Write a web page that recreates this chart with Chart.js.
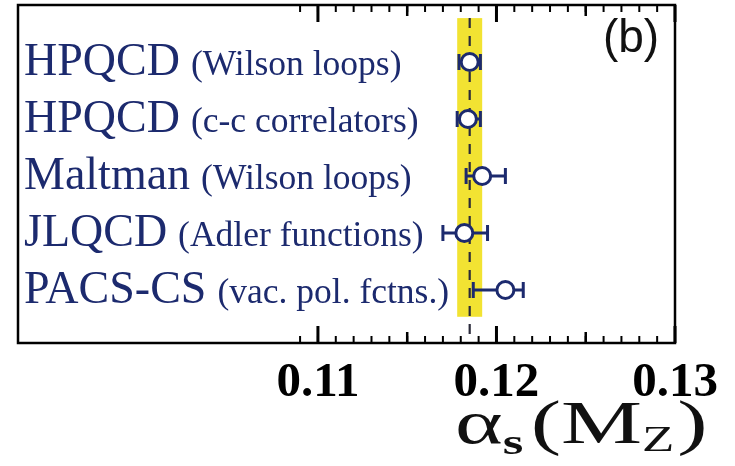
<!DOCTYPE html>
<html>
<head>
<meta charset="utf-8">
<script src="https://cdn.jsdelivr.net/npm/chart.js@4.4.1/dist/chart.umd.min.js"></script>
<style>
  html,body{margin:0;padding:0;background:#fff;}
  #wrap{width:735px;height:466px;}
</style>
</head>
<body>
<div id="wrap"><canvas id="c" width="735" height="466"></canvas></div>
<script>
// ── data ──
const groups  = ['HPQCD','HPQCD','Maltman','JLQCD','PACS-CS'];
const methods = ['(Wilson loops)','(c-c correlators)','(Wilson loops)','(Adler functions)','(vac. pol. fctns.)'];
const rows    = [1,2,3,4,5];
const alphaS  = [0.1185,0.1184,0.1192,0.1182,0.1205];
const errLo   = [0.0006,0.0006,0.0009,0.0012,0.0018];
const errHi   = [0.0006,0.0007,0.0013,0.0013,0.0010];
const worldAvg = 0.1185;
const worldErr = 0.0007;
const majorTicks  = [0.11,0.12,0.13];
const mediumTicks = [0.115,0.125];
const minorTicks  = [];
for(let k=109;k<=129;k++)minorTicks.push(k/1000);

const NAVY='#1c2a6e';

const decor={
  id:'decor',
  beforeDatasetsDraw(chart){
    const {ctx,scales:{x,y}}=chart;
    ctx.save();
    // band
    const bx1=x.getPixelForValue(worldAvg-worldErr),bx2=x.getPixelForValue(worldAvg+worldErr);
    const by1=y.getPixelForValue(0.23),by2=y.getPixelForValue(5.47);
    ctx.fillStyle='#f2e332';
    ctx.fillRect(bx1,by1,bx2-bx1,by2-by1);
    // dashed line
    const dx=x.getPixelForValue(worldAvg);
    ctx.strokeStyle='#2a2a3a';ctx.lineWidth=2.2;ctx.setLineDash([10,8]);
    ctx.beginPath();ctx.moveTo(dx,by1);ctx.lineTo(dx,y.getPixelForValue(5.93));ctx.stroke();
    ctx.setLineDash([]);
    // error bars
    ctx.strokeStyle=NAVY;ctx.lineWidth=3;
    rows.forEach((r,i)=>{
      const py=y.getPixelForValue(r);
      const a=x.getPixelForValue(alphaS[i]-errLo[i]),b=x.getPixelForValue(alphaS[i]+errHi[i]);
      ctx.beginPath();
      ctx.moveTo(a,py);ctx.lineTo(b,py);
      ctx.moveTo(a,py-8);ctx.lineTo(a,py+8);
      ctx.moveTo(b,py-8);ctx.lineTo(b,py+8);
      ctx.stroke();
    });
    ctx.restore();
  },
  afterDraw(chart){
    const {ctx,chartArea:ca,scales:{x,y}}=chart;
    ctx.save();
    // frame
    ctx.strokeStyle='#000';
    ctx.lineWidth=2.5;ctx.strokeRect(ca.left,ca.top,ca.right-ca.left,ca.bottom-ca.top);
    // ticks top and bottom, pointing inward
    const tick=(v,len,w)=>{
      const px=x.getPixelForValue(v);
      ctx.lineWidth=w;
      ctx.beginPath();
      ctx.moveTo(px,ca.bottom);ctx.lineTo(px,ca.bottom-len);
      ctx.moveTo(px,ca.top);ctx.lineTo(px,ca.top+len);
      ctx.stroke();
    };
    for(const v of minorTicks)tick(v,7,2);
    for(const v of mediumTicks)tick(v,11,2.5);
    for(const v of majorTicks)tick(v,17,3);
    // row labels
    ctx.fillStyle=NAVY;ctx.textBaseline='alphabetic';ctx.textAlign='left';
    rows.forEach((r,i)=>{
      const py=y.getPixelForValue(r)+13;
      ctx.font='46px "Liberation Serif"';
      ctx.fillText(groups[i],24,py);
      const w=ctx.measureText(groups[i]).width;
      ctx.font='35.5px "Liberation Serif"';
      ctx.fillText(methods[i],24+w+11,py);
    });
    // panel tag
    ctx.fillStyle='#111';ctx.font='46px "Liberation Sans"';ctx.textAlign='center';
    ctx.fillText('(b)',631,52);
    // axis title  αs(MZ), wide lettering as in the figure
    ctx.textAlign='left';
    ctx.save();
    ctx.translate(455,0);ctx.scale(1.47,1);
    let tx=0;const base=443;
    const put=(s,f,dy,gap)=>{ctx.font=f;ctx.fillText(s,tx,base+dy);tx+=ctx.measureText(s).width+gap;};
    put('α','62px "Liberation Serif"',0,0);
    put('s','bold 36px "Liberation Serif"',11,5);
    put('(','62px "Liberation Serif"',0,0);
    put('M','62px "Liberation Serif"',0,0);
    put('Z','36px "Liberation Serif"',8,2);
    put(')','62px "Liberation Serif"',0,0);
    ctx.restore();
    ctx.restore();
  }
};

new Chart(document.getElementById('c'),{
  type:'scatter',
  data:{datasets:[{
    data:rows.map((r,i)=>({x:alphaS[i],y:r})),
    pointStyle:'circle',pointRadius:8.5,pointHoverRadius:8.5,
    backgroundColor:'#fff',borderColor:NAVY,borderWidth:3
  }]},
  options:{
    responsive:false,animation:false,
    layout:{autoPadding:false,padding:{left:18,top:5,right:60,bottom:0}},
    plugins:{legend:{display:false},tooltip:{enabled:false}},
    scales:{
      x:{type:'linear',min:0.0932,max:0.13,
        afterBuildTicks:ax=>{ax.ticks=majorTicks.map(v=>({value:v}));},
        afterFit:ax=>{ax.height=123;},
        grid:{display:false,drawTicks:false},border:{display:false},
        ticks:{padding:11,color:'#000',maxRotation:0,autoSkip:false,
          font:{family:'"Liberation Serif"',weight:'bold',size:49},
          callback:v=>v.toFixed(2)}},
      y:{type:'linear',min:0,max:5.93,reverse:true,display:false}
    }
  },
  plugins:[decor]
});
</script>
</body>
</html>
